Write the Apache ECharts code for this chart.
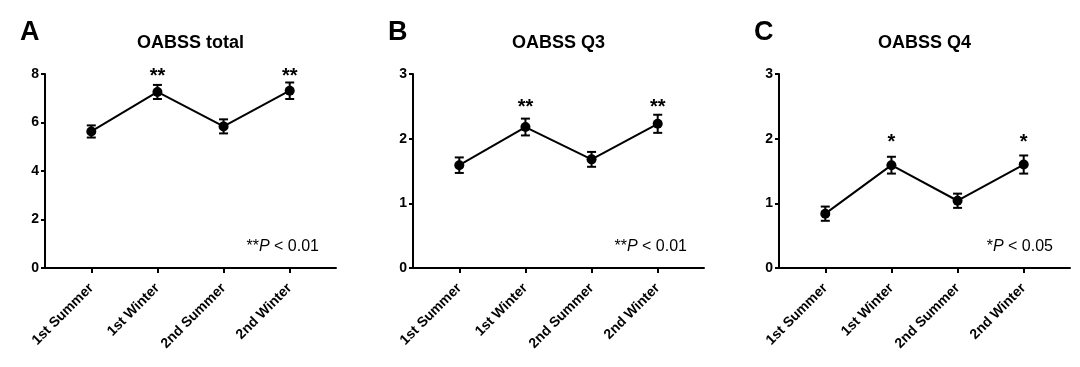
<!DOCTYPE html>
<html>
<head>
<meta charset="utf-8">
<script src="https://cdn.jsdelivr.net/npm/echarts@6/dist/echarts.min.js"></script>
<style>html,body{margin:0;padding:0;background:#fff}#c{width:1080px;height:367px}</style>
</head>
<body>
<div id="c"></div>
<script>
const categories = ['1st Summer', '1st Winter', '2nd Summer', '2nd Winter'];
const xPositions = [1, 2, 3, 4];

const titles = ['OABSS total', 'OABSS Q3', 'OABSS Q4'];
const panelLetters = ['A', 'B', 'C'];

const meansA = [5.63, 7.26, 5.84, 7.31];
const semsA  = [0.25, 0.29, 0.29, 0.34];
const meansB = [1.59, 2.18, 1.68, 2.23];
const semsB  = [0.12, 0.13, 0.115, 0.14];
const meansC = [0.84, 1.59, 1.04, 1.60];
const semsC  = [0.11, 0.13, 0.11, 0.14];

const sigA = ['', '**', '', '**'];
const sigB = ['', '**', '', '**'];
const sigC = ['', '*', '', '*'];
const sigLevels = [8.05, 2.55, 2.0];

const yMax = [8, 3, 3];
const yInterval = [2, 1, 1];

const pNotes = [
  {stars: '**', rest: ' < 0.01'},
  {stars: '**', rest: ' < 0.01'},
  {stars: '*', rest: ' < 0.05'}
];

const FONT = "'Liberation Sans', Arial, Helvetica, sans-serif";
const gridLefts = [45, 413, 779];
const gridWidth = 291;
const gridTop = 74;
const gridBottom = 99;

const means = [meansA, meansB, meansC];
const sems = [semsA, semsB, semsC];
const sigs = [sigA, sigB, sigC];

function errRender(params, api) {
  const x = api.value(0), lo = api.value(1), hi = api.value(2);
  const pLo = api.coord([x, lo]), pHi = api.coord([x, hi]);
  const hw = 4.5;
  const st = {stroke: '#000', lineWidth: 2};
  return {type: 'group', children: [
    {type: 'line', shape: {x1: pLo[0], y1: pLo[1], x2: pHi[0], y2: pHi[1]}, style: st},
    {type: 'line', shape: {x1: pLo[0] - hw, y1: pLo[1], x2: pLo[0] + hw, y2: pLo[1]}, style: st},
    {type: 'line', shape: {x1: pHi[0] - hw, y1: pHi[1], x2: pHi[0] + hw, y2: pHi[1]}, style: st}
  ]};
}
function makeStarRender(sigArr) {
  return function (params, api) {
    const p = api.coord([api.value(0), api.value(1)]);
    return {type: 'text', x: p[0], y: p[1] + 4, style: {
      text: sigArr[params.dataIndex], fill: '#000', font: 'bold 20px ' + FONT,
      align: 'center', verticalAlign: 'middle'
    }};
  };
}

const grids = [], xAxes = [], yAxes = [], series = [], graphics = [];
for (let i = 0; i < 3; i++) {
  grids.push({left: gridLefts[i], width: gridWidth, top: gridTop, bottom: gridBottom, containLabel: false});
  xAxes.push({
    type: 'value', gridIndex: i, min: 0.3, max: 4.7,
    splitLine: {show: false},
    axisLine: {show: true, lineStyle: {color: '#000', width: 2}},
    axisTick: {show: true, length: 5, lineStyle: {color: '#000', width: 2}, customValues: xPositions},
    axisLabel: {
      customValues: xPositions, rotate: 45, margin: 18,
      align: 'right', verticalAlign: 'middle',
      color: '#000', fontFamily: FONT, fontWeight: 'bold', fontSize: 14,
      formatter: v => categories[Math.round(v) - 1] || ''
    }
  });
  yAxes.push({
    type: 'value', gridIndex: i, min: 0, max: yMax[i], interval: yInterval[i],
    splitLine: {show: false},
    axisLine: {show: true, onZero: false, lineStyle: {color: '#000', width: 2}},
    axisTick: {show: true, length: 4, lineStyle: {color: '#000', width: 2}},
    axisLabel: {color: '#000', fontFamily: FONT, fontWeight: 'bold', fontSize: 14, margin: 6}
  });
  const lineData = xPositions.map((x, k) => [x, means[i][k]]);
  const errData = xPositions.map((x, k) => [x, means[i][k] - sems[i][k], means[i][k] + sems[i][k]]);
  const starData = xPositions.map((x) => [x, sigLevels[i]]);
  series.push({
    type: 'line', xAxisIndex: i, yAxisIndex: i, data: lineData,
    symbol: 'circle', symbolSize: 10, itemStyle: {color: '#000'},
    lineStyle: {color: '#000', width: 2}, z: 3, animation: false
  });
  series.push({
    type: 'custom', xAxisIndex: i, yAxisIndex: i, data: errData,
    renderItem: errRender, z: 4, animation: false, clip: false
  });
  series.push({
    type: 'custom', xAxisIndex: i, yAxisIndex: i, data: starData,
    renderItem: makeStarRender(sigs[i]), z: 5, animation: false, clip: false
  });
  const cx = gridLefts[i] + gridWidth / 2;
  graphics.push({type: 'text', left: gridLefts[i] - 25, top: 19, style: {
    text: panelLetters[i], fill: '#000', font: 'bold 27px ' + FONT
  }});
  graphics.push({type: 'text', x: cx, y: 43, style: {
    text: titles[i], fill: '#000', font: 'bold 18px ' + FONT, align: 'center', verticalAlign: 'middle'
  }});
  graphics.push({type: 'text', x: gridLefts[i] + 274, y: 247, style: {
    text: '{s|' + pNotes[i].stars + '}{p|P}{n|' + pNotes[i].rest + '}',
    align: 'right', verticalAlign: 'middle',
    rich: {
      s: {fontFamily: FONT, fontSize: 16, fill: '#000'},
      p: {fontFamily: FONT, fontSize: 16, fontStyle: 'italic', fill: '#000'},
      n: {fontFamily: FONT, fontSize: 16, fill: '#000'}
    }
  }});
}

const chart = echarts.init(document.getElementById('c'), null, {renderer: 'canvas'});
chart.setOption({
  backgroundColor: '#fff',
  animation: false,
  grid: grids, xAxis: xAxes, yAxis: yAxes, series: series, graphic: graphics
});
</script>
</body>
</html>
